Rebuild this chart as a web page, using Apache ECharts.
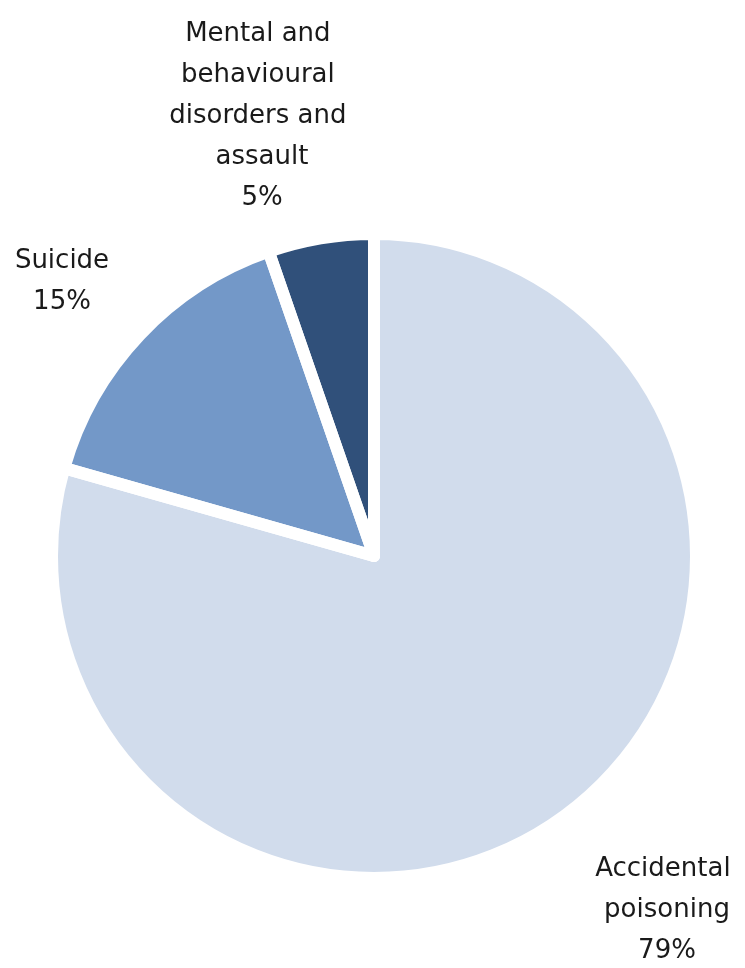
<!DOCTYPE html>
<html>
<head>
<meta charset="utf-8">
<script src="https://cdn.jsdelivr.net/npm/echarts@6/dist/echarts.min.js"></script>
<style>
  html, body { margin: 0; padding: 0; background: #fff; }
  #main { width: 745px; height: 968px; }
</style>
</head>
<body>
<div id="main"></div>
<script>
var myChart = echarts.init(document.getElementById('main'));

// categories and shares (percent), clockwise from 12 o'clock
var categories = ['Accidental poisoning', 'Suicide', 'Mental and behavioural disorders and assault'];
var shares = [79.4, 15.3, 5.3];
var colors = ['#D1DCEC', '#7398C8', '#30507A'];

// where each label block sits (centre of the text block)
var labelPos = [[667, 910], [62, 282], [262, 116]];

var total = shares.reduce(function (s, v) { return s + v; }, 0);

var pieData = categories.map(function (name, i) {
    return { name: name, value: shares[i], itemStyle: { color: colors[i] } };
});
var borderData = categories.map(function (name, i) {
    return { name: name, value: shares[i] };
});

var center = [374, 556];
var radius = 322;

option = {
    animation: false,
    series: [
        {
            name: 'Deaths',
            type: 'pie',
            center: center,
            radius: radius,
            startAngle: 90,
            clockwise: true,
            label: {
                show: true,
                position: 'outside',
                fontFamily: 'DejaVu Sans',
                fontSize: 26,
                lineHeight: 41,
                color: '#1a1a1a',
                width: 200,
                overflow: 'break',
                align: 'center',
                formatter: function (p) {
                    return p.name + '\n' + Math.round(p.value / total * 100) + '%';
                }
            },
            labelLine: { show: false },
            labelLayout: function (params) {
                var pos = labelPos[params.dataIndex];
                return { x: pos[0], y: pos[1], align: 'center', verticalAlign: 'middle' };
            },
            data: pieData
        },
        {
            // white outlines drawn over all slices, like the spreadsheet does
            name: 'outline',
            type: 'pie',
            z: 3,
            silent: true,
            center: center,
            radius: radius,
            startAngle: 90,
            clockwise: true,
            itemStyle: {
                color: 'rgba(0,0,0,0)',
                borderColor: '#fff',
                borderWidth: 12,
                borderJoin: 'round'
            },
            label: { show: false },
            labelLine: { show: false },
            data: borderData
        }
    ]
};

myChart.setOption(option);
</script>
</body>
</html>
